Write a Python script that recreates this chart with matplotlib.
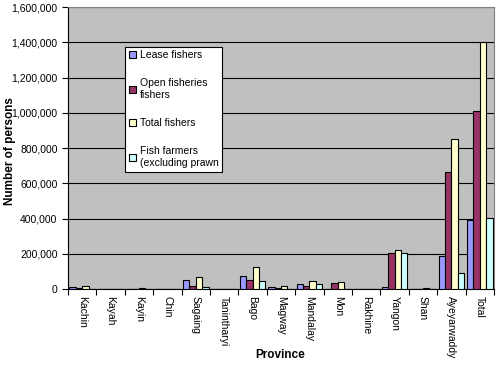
import numpy as np
import matplotlib
matplotlib.use("Agg")
import matplotlib.pyplot as plt
from matplotlib.ticker import FuncFormatter, MultipleLocator

# data
provinces = ["Kachin", "Kayah", "Kayin", "Chin", "Sagaing", "Tanintharyi", "Bago",
             "Magway", "Mandalay", "Mon", "Rakhine", "Yangon", "Shan", "Ayeyarwaddy", "Total"]
lease_fishers = [10000, 0, 2000, 0, 51000, 0, 74000, 12000, 28000, 1000, 0, 10000, 2000, 188000, 389000]
open_fishers = [4000, 0, 1000, 0, 15000, 0, 51000, 5000, 19000, 34000, 0, 203000, 2000, 665000, 1010000]
total_fishers = [18000, 0, 5000, 1000, 67000, 0, 124000, 18000, 47000, 38000, 0, 222000, 4000, 853000, 1403000]
fish_farmers = [1000, 0, 0, 0, 12000, 0, 47000, 2000, 30000, 0, 0, 203000, 0, 89000, 403000]

series = [
    ("Lease fishers", lease_fishers, "#9999FF"),
    ("Open fisheries\nfishers", open_fishers, "#993366"),
    ("Total fishers", total_fishers, "#FFFFCC"),
    ("Fish farmers\n(excluding prawn", fish_farmers, "#CCFFFF"),
]

plt.rcParams["font.family"] = ["Liberation Sans", "DejaVu Sans"]

fig = plt.figure(figsize=(5.0, 3.71), dpi=100)
ax = fig.add_axes([0.136, 0.221, 0.852, 0.760])
ax.set_facecolor("#C0C0C0")

x = np.arange(len(provinces))
w = 0.225
for i, (label, vals, color) in enumerate(series):
    ax.bar(x + (i - 1.5) * w, vals, w, color=color, edgecolor="black",
           linewidth=0.8, label=label, zorder=3)

ax.set_xlim(-0.5, len(provinces) - 0.5)
ax.set_ylim(0, 1600000)
ax.yaxis.set_major_locator(MultipleLocator(200000))
ax.yaxis.set_major_formatter(FuncFormatter(lambda v, p: f"{int(v):,}"))
ax.grid(axis="y", color="black", linewidth=0.8, zorder=1)

ax.set_xticks(x)
ax.set_xticklabels(provinces, rotation=270, fontsize=7.5)
ax.set_xticks(np.arange(len(provinces) + 1) - 0.5, minor=True)
ax.tick_params(axis="x", which="major", length=0, pad=5)
ax.tick_params(axis="x", which="minor", length=4, width=0.8)
ax.tick_params(axis="y", labelsize=7.5, length=4, width=0.8)

for side in ["top", "right"]:
    ax.spines[side].set_color("#808080")
for side in ["left", "bottom"]:
    ax.spines[side].set_color("black")

ax.set_xlabel("Province", fontsize=8.5, fontweight="bold")
ax.set_ylabel("Number of persons", fontsize=8.5, fontweight="bold")
ax.xaxis.set_label_coords(0.498, -0.235)
ax.yaxis.set_label_coords(-0.136, 0.49)
ax.xaxis.label.set_va("center")
ax.yaxis.label.set_va("center")

leg = ax.legend(loc="upper left", bbox_to_anchor=(0.134, 0.86), fontsize=7.5,
                frameon=True, fancybox=False, edgecolor="black", framealpha=1,
                handlelength=0.65, handleheight=0.65, handletextpad=0.4,
                labelspacing=1.75, borderpad=0.35, borderaxespad=0)
leg.get_frame().set_linewidth(0.8)

fig.savefig("out.png", dpi=100, facecolor="white")
